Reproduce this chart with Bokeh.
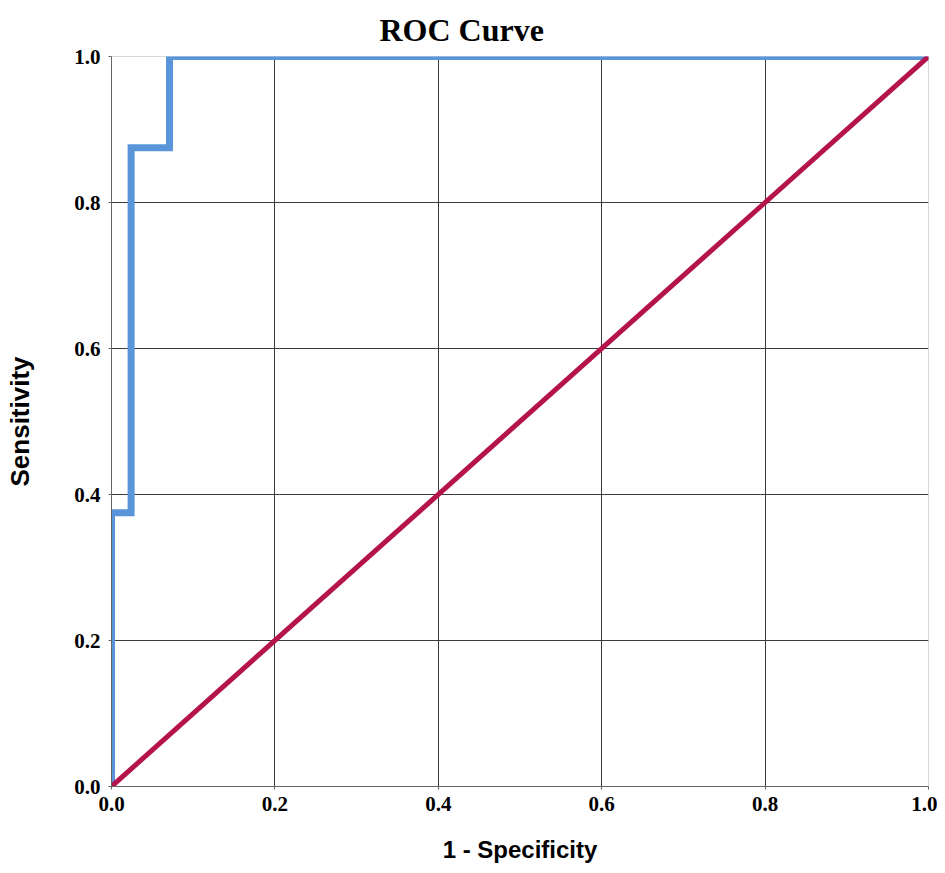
from bokeh.plotting import figure
from bokeh.models import Range1d, FixedTicker, Title, NumeralTickFormatter
from bokeh.embed import file_html
from bokeh.resources import INLINE

# ROC data
fpr = [0.0, 0.0, 0.024, 0.024, 0.071, 0.071, 1.0]
tpr = [0.0, 0.375, 0.375, 0.875, 0.875, 1.0, 1.0]
ref_x = [0.0, 1.0]
ref_y = [0.0, 1.0]
ticks = [0.0, 0.2, 0.4, 0.6, 0.8, 1.0]
x_title = "1 - Specificity"
y_title = "Sensitivity"

p = figure(width=937, height=865, output_backend="svg", toolbar_location=None,
           x_range=Range1d(0, 1), y_range=Range1d(0, 1),
           min_border_left=111, min_border_right=9, min_border_top=55, min_border_bottom=79)

p.title = Title(text="ROC Curve", text_font="Liberation Serif", text_font_style="bold",
                text_font_size="32px", align="left", offset=268, standoff=18, text_color="#000000")

p.background_fill_color = "white"
p.border_fill_color = "white"
p.outline_line_color = "#d8d8d8"
p.outline_line_width = 1

for ax in (p.xaxis[0], p.yaxis[0]):
    ax.ticker = FixedTicker(ticks=ticks)
    ax.formatter = NumeralTickFormatter(format="0.0")
    ax.major_label_text_font = "Liberation Serif"
    ax.major_label_text_font_style = "bold"
    ax.major_label_text_font_size = "21px"
    ax.major_label_text_color = "#000000"
    ax.axis_line_color = "#666666"
    ax.axis_line_width = 1
    ax.major_tick_line_color = "#666666"
    ax.major_tick_in = 0
    ax.major_tick_out = 3
    ax.minor_tick_line_color = None
    ax.axis_label_text_font = "Liberation Sans"
    ax.axis_label_text_font_style = "bold"
    ax.axis_label_text_color = "#000000"

p.xaxis[0].axis_label = x_title
p.xaxis[0].axis_label_text_font_size = "24px"
p.xaxis[0].major_label_standoff = 7
p.xaxis[0].axis_label_standoff = 22
p.yaxis[0].axis_label = y_title
p.yaxis[0].axis_label_text_font_size = "26px"
p.yaxis[0].major_label_standoff = 8
p.yaxis[0].axis_label_standoff = 36

p.xgrid[0].ticker = FixedTicker(ticks=[0.2, 0.4, 0.6, 0.8])
p.ygrid[0].ticker = FixedTicker(ticks=[0.2, 0.4, 0.6, 0.8, 1.0])
for g in (p.xgrid[0], p.ygrid[0]):
    g.grid_line_color = "#3a3a3a"
    g.grid_line_width = 1

p.line(fpr, tpr, line_color="#5A95DA", line_width=7, line_join="miter")
p.line(ref_x, ref_y, line_color="#B5134B", line_width=5)

open("out.html", "w").write(file_html(p, INLINE))
